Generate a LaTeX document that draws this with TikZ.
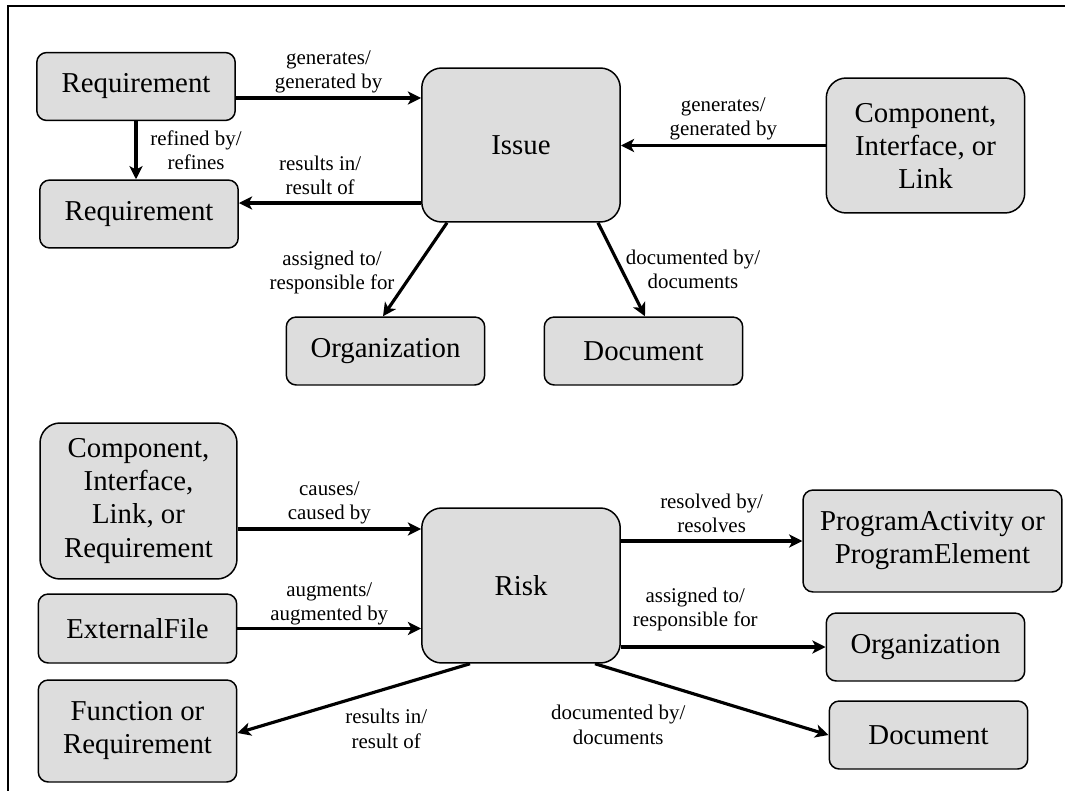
\documentclass[tikz,border=0pt]{standalone}
\usepackage{fontspec}
\setmainfont{Liberation Serif}
\usetikzlibrary{arrows.meta}
\definecolor{boxgray}{RGB}{221,221,221}

\begin{document}
\begin{tikzpicture}[x=0.02cm, y=-0.02cm,
        box/.style={draw=black, line width=0.85pt, fill=boxgray, rounded corners=0.2cm, align=center, inner sep=2pt,
            minimum width=3.97cm, minimum height=1.36cm, font=\fontsize{16.4}{18.8}\selectfont},
        bigbox/.style={box, rounded corners=0.4cm},
        rel/.style={line width=1.8pt, ->, >={Stealth[length=7.5pt, width=7.5pt, inset=2pt]}},
        lbl/.style={align=center, inner sep=0pt, font=\fontsize{11.9}{13.7}\selectfont}]
    \useasboundingbox (0,0) rectangle (1065,791);
    \draw [black, line width=0.85pt] (1065,6) -- (8,6) -- (8,791);

    % Issue
    \node[box] (req1) at (136,86.5) {Requirement};
    \node[box] (req2) at (139,214) {Requirement};
    \node[bigbox, minimum height=3.08cm] (issue) at (521,145) {Issue};
    \node[bigbox, minimum height=2.7cm] (cil) at (925.5,145.5) {Component,\\Interface, or\\Link};
    \node[box] (orgtop) at (385.5,351) {Organization};
    \node[box] (doctop) at (643.5,351) {Document};

    \draw[rel] ([yshift=-0.23cm]req1.east) -- node[lbl, pos=0.5, yshift=0.52cm] (l1) {generates/\\generated by} ([yshift=-0.23cm]req1.east -| issue.west);
    \draw[rel] (req1.south) -- node[lbl, pos=0.5, xshift=1.2cm] (l2) {refined by/\\refines} (req1.south |- req2.north);
    \draw[rel] ([yshift=0.22cm]req2.east -| issue.west) -- node[lbl, pos=0.554, yshift=0.56cm] (l3) {results in/\\result of} ([yshift=0.22cm]req2.east);
    \draw[rel] (cil.west) -- node[lbl, pos=0.5, yshift=0.53cm] (l4) {generates/\\generated by} (cil.west -| issue.east);
    \draw[rel] ([xshift=-1.48cm]issue.south) -- node[lbl, pos=0.5, xshift=-1.66cm, yshift=-0.06cm] (l5) {assigned to/\\responsible for} ([xshift=-0.05cm]orgtop.north);
    \draw[rel] ([xshift=1.54cm]issue.south) -- node[lbl, pos=0.5, xshift=1.43cm] (l6) {documented by/\\documents} ([xshift=0.03cm]doctop.north);

    % Risk
    \node[bigbox, minimum width=3.94cm, minimum height=3.12cm] (cilr) at (138.5,501) {Component,\\Interface,\\Link, or\\Requirement};
    \node[box, minimum height=1.38cm] (ext) at (137.5,628.5) {ExternalFile};
    \node[box, minimum height=2.04cm] (func) at (137.5,731) {Function or\\Requirement};
    \node[bigbox, minimum height=3.1cm] (risk) at (521,585.5) {Risk};
    \node[box, minimum width=5.18cm, minimum height=2.04cm] (pape) at (932.5,541) {ProgramActivity or\\ProgramElement};
    \node[box] (orgbot) at (925.5,647) {Organization};
    \node[box] (docbot) at (928.5,735) {Document};

    \draw[rel] ([yshift=-0.56cm]cilr.east) -- node[lbl, pos=0.5, yshift=0.52cm] (l7) {causes/\\caused by} ([yshift=-0.56cm]cilr.east -| risk.west);
    \draw[rel] (ext.east) -- node[lbl, pos=0.5, yshift=0.49cm] (l8) {augments/\\augmented by} (ext.east -| risk.west);
    \draw[rel] ([xshift=-1.02cm]risk.south) -- node[lbl, pos=0.5, xshift=0.65cm, yshift=-0.61cm] (l9) {results in/\\result of} ([yshift=-0.04cm]func.east);
    \draw[rel] (pape.west -| risk.east) -- node[lbl, pos=0.5, yshift=0.55cm] (l10) {resolved by/\\resolves} (pape.west);
    \draw[rel] (orgbot.west -| risk.east) -- node[lbl, pos=0.5, xshift=-0.56cm, yshift=0.76cm] (l11) {assigned to/\\responsible for} (orgbot.west);
    \draw[rel] ([xshift=1.48cm]risk.south) -- node[lbl, pos=0.5, xshift=-1.87cm, yshift=-0.51cm] (l12) {documented by/\\documents} (docbot.west);
\end{tikzpicture}
\end{document}
